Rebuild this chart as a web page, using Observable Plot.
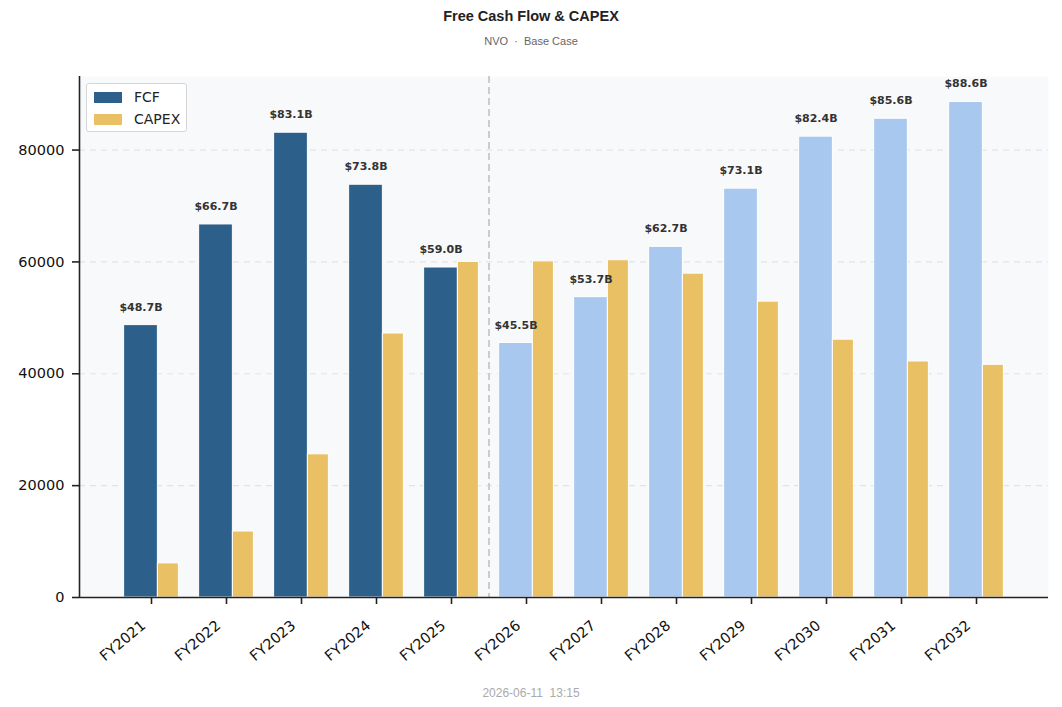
<!DOCTYPE html>
<html>
<head>
<meta charset="utf-8">
<script src="https://cdn.jsdelivr.net/npm/d3@7"></script>
<script src="https://cdn.jsdelivr.net/npm/@observablehq/plot@0.6"></script>
<style>
  body { margin: 0; background: #fff; }
  #wrap { position: relative; width: 1062px; height: 707px; }
  .title { height: 32px; font: bold 14.5px "Liberation Sans", Arial, sans-serif; line-height: 32px; text-align: center; color: #222; }
  .sub { height: 18px; font: 11px "Liberation Sans", Arial, sans-serif; line-height: 18px; text-align: center; color: #666; white-space: pre; }
  .foot { height: 26px; font: 12px "Liberation Sans", Arial, sans-serif; line-height: 26px; text-align: center; color: #aaa; white-space: pre; }
  #chart { height: 630px; }
  #legend { position: absolute; left: 86px; top: 83px; width: 99px; height: 47px; background: rgba(255,255,255,0.9); border: 1px solid #d6d6d6; border-radius: 3px; font: 14px "DejaVu Sans", sans-serif; color: #222; }
  #legend .row { position: absolute; left: 7px; height: 16px; display: flex; align-items: center; }
  #legend .sw { width: 28px; height: 11px; margin-right: 12px; }
</style>
</head>
<body>
<div id="wrap">
  <div class="title">Free Cash Flow &amp; CAPEX</div>
  <div class="sub">NVO  ·  Base Case</div>
  <div id="chart"></div>
  <div class="foot">2026-06-11  13:15</div>
  <div id="legend">
    <div class="row" style="top:5px"><div class="sw" style="background:#2c5f8a"></div>FCF</div>
    <div class="row" style="top:27px"><div class="sw" style="background:#e9c064"></div>CAPEX</div>
  </div>
</div>
<script>
const years = ["FY2021","FY2022","FY2023","FY2024","FY2025","FY2026","FY2027","FY2028","FY2029","FY2030","FY2031","FY2032"];
const fcf   = [48700, 66700, 83100, 73800, 59000, 45500, 53700, 62700, 73100, 82400, 85600, 88600];
const capex = [6100, 11800, 25600, 47200, 60000, 60100, 60300, 57900, 52900, 46100, 42200, 41600];
const firstForecast = 5;          // FY2026 onwards are projections
const forecastDivider = 4.5;      // between FY2025 and FY2026
const yTicks = [0, 20000, 40000, 60000, 80000];

const colFcfHist = "#2c5f8a", colFcfProj = "#a8c8ef", colCapex = "#e9c064";

const data = years.map((y, i) => ({ i, year: y, fcf: fcf[i], capex: capex[i], proj: i >= firstForecast }));
const xTicks = years.map((_, i) => i);

const xDomain = [-0.96, 11.96];
const yDomain = [0, 93150];

const chart = Plot.plot({
  width: 1062,
  height: 630,
  marginLeft: 79,
  marginRight: 14,
  marginTop: 26,
  marginBottom: 83,
  style: { fontFamily: "DejaVu Sans, sans-serif", fontSize: "14.5px", color: "#111", background: "transparent" },
  x: { type: "linear", domain: xDomain, label: null },
  y: { domain: yDomain, label: null },
  marks: [
    Plot.frame({ fill: "#f8f9fb", stroke: null }),
    Plot.ruleY(yTicks.filter(d => d > 0), { stroke: "#e1e3e7", strokeWidth: 1.2, strokeDasharray: "6,5" }),
    Plot.ruleX([forecastDivider], { stroke: "#cccccc", strokeWidth: 2, strokeDasharray: "7,4" }),
    Plot.rectY(data, { x1: d => d.i - 0.365, x2: d => d.i + 0.085, y: "fcf", fill: d => d.proj ? colFcfProj : colFcfHist, stroke: "white", strokeWidth: 1 }),
    Plot.rectY(data, { x1: d => d.i + 0.085, x2: d => d.i + 0.365, y: "capex", fill: colCapex, stroke: "white", strokeWidth: 1 }),
    Plot.text(data, { x: d => d.i - 0.14, y: "fcf", text: d => `$${(d.fcf / 1000).toFixed(1)}B`, dy: -18, fontWeight: "bold", fontSize: 11, fill: "#333", fontFamily: "DejaVu Sans, sans-serif" }),
    Plot.ruleY([0], { stroke: "#222", strokeWidth: 1.6 }),
    Plot.ruleX([xDomain[0]], { stroke: "#222", strokeWidth: 1.6 }),
    Plot.axisX({ ticks: xTicks, tickFormat: () => "", tickSize: 7, stroke: "#222", strokeWidth: 1.6 }),
    Plot.axisX({ ticks: xTicks, tickFormat: i => years[i], tickRotate: -40, tickSize: 0, tickPadding: 26, dx: -8, fill: "#111" }),
    Plot.axisY({ ticks: yTicks, tickFormat: d3.format("d"), tickSize: 7, tickPadding: 8, stroke: "#222", strokeWidth: 1.6, fill: "#111" })
  ]
});
document.getElementById("chart").appendChild(chart);
</script>
</body>
</html>
